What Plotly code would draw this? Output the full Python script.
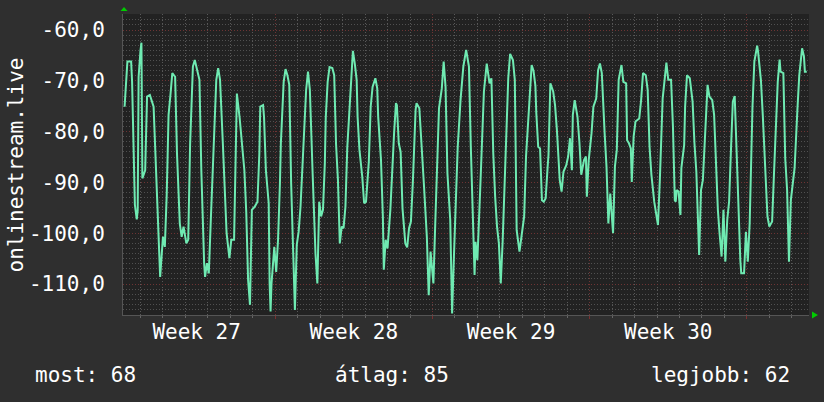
import pandas as pd
import plotly.graph_objects as go

# ---------------- data ----------------
series_name = "onlinestream.live"
start_time = "2024-07-01 00:00"          # Monday, ISO week 27

hours = [
    7, 9, 10, 14, 15, 18, 20, 21, 22, 24, 25, 26, 29, 31, 34, 38, 40, 42, 45, 48,
    50, 52, 54, 56, 58, 61, 63, 66, 68, 70, 73, 75, 77, 80, 82, 87, 89, 92, 93, 95,
    97, 99, 103, 105, 107, 109, 112, 115, 116, 119, 121, 124, 126, 127, 130, 132, 135, 137, 139, 141,
    143, 146, 149, 151,
    152, 155, 156, 158, 161, 162, 163, 164, 167, 169, 171, 173, 174, 177, 179, 181, 183, 185, 187, 189,
    191, 193, 195, 197, 200, 201, 203, 205, 208, 211, 213, 215, 217, 219, 221, 222, 224, 226, 229, 231,
    233, 235, 237, 239, 241, 243, 245, 247, 249, 251, 253, 255, 256, 258, 261, 263, 265, 268, 270, 272,
    275, 277, 278, 281, 283, 284, 286, 288, 291, 293, 295, 297, 298, 300,
    302, 304, 307, 309, 311, 313, 315, 318, 319, 322, 325, 327, 330, 332, 334, 337, 339, 341, 343, 346,
    348, 350, 352, 355, 357, 359, 361, 363, 366, 369, 372, 375, 377, 379, 381, 382, 384, 387, 391, 394,
    397, 399, 401, 403, 405, 407, 409, 411, 413, 415, 417, 419, 422, 424, 425, 426, 429, 432, 434, 436,
    440, 442, 444, 446, 447, 449,
    451, 453, 455, 457, 459, 460, 462, 465, 467, 469, 472, 474, 476, 479, 481, 483, 485, 486, 488, 491,
    493, 495, 498, 500, 501, 503, 506, 508, 511, 513, 515, 517, 520, 522, 524, 526, 529, 531, 533, 535,
    538, 540, 543, 544, 546, 548, 549, 551, 553, 557, 559, 561, 564, 566, 568, 570, 573, 575, 577, 579,
    582, 585, 586, 588, 591, 593,
    595, 596, 597, 599, 601, 602, 605, 606, 608, 611, 614, 616, 618, 621, 623, 625, 627, 630, 632, 635,
    637, 639, 641, 643, 645, 647, 649, 651, 653, 655, 657, 659, 662, 665, 666, 669, 671, 673, 675, 678,
    680, 683, 684, 687, 689, 692, 694, 696, 699, 701, 702, 705, 707, 708, 711, 713, 715, 717, 719, 721,
    723, 726, 728, 731, 733, 734, 736,
]

values = [
    -75.1, -68.9, -66.2, -66.2, -70.2, -94.4, -97.3, -95.5, -69.2, -64.0, -62.5, -89.2, -87.6, -73.1, -72.8, -75.1, -84.6, -94.8, -108.6, -100.7,
    -102.7, -92.5, -76.7, -72.8, -68.5, -69.2, -84.3, -98.1, -100.7, -98.7, -102.0, -101.3, -82.6, -67.2, -65.9, -69.8, -87.6, -105.9, -108.6, -105.9,
    -107.9, -98.1, -77.7, -69.8, -67.5, -69.8, -82.3, -93.8, -100.0, -104.9, -101.3, -101.3, -85.6, -72.5, -77.4, -81.0, -87.6, -95.8, -109.2, -114.1,
    -95.4, -94.8, -93.8, -84.3,
    -75.1, -74.8, -77.1, -87.6, -94.1, -109.9, -115.4, -109.9, -102.7, -107.6, -101.3, -90.2, -82.3, -70.2, -67.7, -68.9, -70.8, -90.2, -105.3, -115.1,
    -102.3, -99.7, -94.8, -86.9, -73.5, -71.8, -68.2, -71.8, -88.5, -104.0, -109.9, -93.8, -96.7, -95.4, -86.2, -77.1, -70.2, -67.3, -67.5, -68.9,
    -82.6, -89.5, -102.0, -98.7, -99.0, -94.8, -83.0, -76.7, -69.2, -64.1, -66.6, -69.8, -77.1, -83.6, -88.9, -94.1, -93.8, -85.9, -75.1, -71.2,
    -69.5, -71.5, -77.1, -85.6, -96.7, -107.2, -101.3, -103.0, -95.4, -86.9, -80.3, -74.4, -74.8, -82.3,
    -84.0, -95.1, -102.0, -102.8, -99.0, -97.7, -90.2, -75.7, -74.4, -75.4, -84.0, -90.8, -100.7, -112.2, -103.6, -109.9, -98.1, -84.9, -75.4, -71.5,
    -66.2, -71.2, -88.2, -97.4, -115.8, -104.3, -94.8, -83.0, -73.8, -67.2, -63.9, -67.2, -83.0, -98.7, -108.2, -101.7, -105.3, -91.5, -72.1, -66.6,
    -70.5, -69.5, -84.3, -92.8, -98.7, -102.0, -109.9, -101.7, -91.5, -78.4, -69.5, -64.7, -65.9, -69.8, -85.9, -99.4, -103.6, -99.0, -96.7, -84.9,
    -73.1, -66.9, -68.0, -71.0, -76.4, -83.0,
    -83.3, -93.5, -93.8, -93.1, -87.2, -84.6, -70.5, -72.1, -74.8, -79.7, -89.5, -91.8, -87.9, -86.6, -84.9, -81.3, -87.6, -76.7, -73.8, -77.1,
    -82.0, -88.5, -85.6, -84.9, -92.8, -85.6, -80.3, -75.1, -73.5, -67.9, -66.6, -68.5, -80.3, -86.9, -98.1, -92.2, -100.0, -86.9, -83.6, -69.8,
    -66.9, -70.2, -70.5, -81.7, -82.3, -83.3, -89.9, -81.0, -78.0, -77.4, -73.8, -68.5, -68.9, -71.8, -83.0, -88.5, -93.8, -96.1, -98.4, -89.5,
    -73.5, -68.2, -66.4, -69.8, -69.8, -79.0,
    -93.5, -93.8, -91.5, -91.8, -96.4, -87.2, -82.6, -75.1, -68.9, -69.5, -74.1, -82.3, -87.9, -104.3, -91.5, -89.5, -82.3, -70.8, -73.1, -73.8,
    -76.7, -85.3, -95.4, -100.4, -104.6, -95.4, -105.6, -97.4, -93.8, -83.6, -74.1, -73.0, -90.8, -105.3, -107.9, -107.9, -99.7, -105.6, -98.1, -75.1,
    -66.2, -63.1, -64.3, -69.8, -76.7, -89.9, -96.7, -98.7, -97.7, -88.2, -83.6, -70.2, -65.8, -68.2, -68.5, -85.3, -91.5, -105.6, -93.5, -89.9,
    -87.2, -75.7, -68.9, -63.6, -65.2, -68.2, -68.2,
]

week_starts = ["2024-07-08", "2024-07-15", "2024-07-22", "2024-07-29"]
week_label_pos = ["2024-07-04 12:00", "2024-07-11 12:00", "2024-07-18 12:00", "2024-07-25 12:00"]
week_labels = ["Week 27", "Week 28", "Week 29", "Week 30"]

y_tick_vals = [-60, -70, -80, -90, -100, -110]
y_tick_text = ["-60,0", "-70,0", "-80,0", "-90,0", "-100,0", "-110,0"]

legend_texts = ["most: 68", "átlag: 85", "legjobb: 62"]

x_range_hours = [5.3, 738.4]
y_range = [-116.1, -56.85]

# ---------------- figure ----------------
t0 = pd.Timestamp(start_time)
times = t0 + pd.to_timedelta(hours, unit="h")
x_range = [t0 + pd.Timedelta(hours=h) for h in x_range_hours]

FONT = "DejaVu Sans Mono"
TXT = "#ffffff"
RED_GRID = "rgba(110,52,52,1)"
GRAY_GRID = "rgba(95,95,95,0.9)"

fig = go.Figure()
fig.add_trace(go.Scatter(
    x=times, y=values, mode="lines",
    line=dict(color="#6feab2", width=2),
    hoverinfo="skip", showlegend=False,
))
# invisible trace to activate the label axis
fig.add_trace(go.Scatter(
    x=[times[0]], y=[values[0]], xaxis="x2", mode="markers",
    marker=dict(opacity=0), hoverinfo="skip", showlegend=False,
))

fig.update_layout(
    width=824, height=402,
    margin=dict(l=123, r=15, t=14, b=87),
    paper_bgcolor="#2f2f2f",
    plot_bgcolor="#222222",
    font=dict(family=FONT, size=21, color=TXT),
    showlegend=False,
    xaxis=dict(
        type="date", range=x_range,
        tickmode="array", tickvals=week_starts, showticklabels=False,
        showgrid=True, gridcolor=RED_GRID, griddash="1px,2px", gridwidth=1,
        ticks="outside", ticklen=3, tickcolor="#7a3030",
        minor=dict(tickmode="linear", tick0="2024-07-01", dtick=86400000,
                   showgrid=True, gridcolor=GRAY_GRID, griddash="1px,2px",
                   ticks="outside", ticklen=2, tickcolor="#666666"),
        showline=True, linecolor="#555555", linewidth=1,
        zeroline=False,
    ),
    xaxis2=dict(
        type="date", range=x_range, overlaying="x", anchor="y", side="bottom",
        tickmode="array", tickvals=week_label_pos, ticktext=week_labels,
        showgrid=False, ticks="", showline=False, zeroline=False,
        tickfont=dict(family=FONT, size=21, color=TXT),
        ticklabelstandoff=2,
    ),
    yaxis=dict(
        range=y_range,
        tickmode="array", tickvals=y_tick_vals, ticktext=y_tick_text,
        showgrid=True, gridcolor=RED_GRID, griddash="1px,2px", gridwidth=1,
        minor=dict(tickmode="linear", tick0=0, dtick=1,
                   showgrid=True, gridcolor="rgba(85,85,85,0.9)", griddash="1px,2px"),
        ticks="", ticklabelstandoff=13,
        tickfont=dict(family=FONT, size=21, color=TXT),
        showline=True, linecolor="#555555", linewidth=1,
        zeroline=False,
    ),
    annotations=[
        dict(text=series_name, textangle=-90, xref="paper", yref="paper",
             x=(15 - 123) / 686, y=0.5, xanchor="center", yanchor="middle",
             showarrow=False, font=dict(family=FONT, size=21, color=TXT)),
        dict(text=legend_texts[0], xref="paper", yref="paper",
             x=(33 - 123) / 686, y=(315 - 375) / 301, xanchor="left", yanchor="middle",
             showarrow=False, font=dict(family=FONT, size=21, color=TXT)),
        dict(text=legend_texts[1], xref="paper", yref="paper",
             x=(392 - 123) / 686, y=(315 - 375) / 301, xanchor="center", yanchor="middle",
             showarrow=False, font=dict(family=FONT, size=21, color=TXT)),
        dict(text=legend_texts[2], xref="paper", yref="paper",
             x=(792 - 123) / 686, y=(315 - 375) / 301, xanchor="right", yanchor="middle",
             showarrow=False, font=dict(family=FONT, size=21, color=TXT)),
    ],
    shapes=[
        dict(type="path", xref="paper", yref="paper",
             path="M 0.00146 1.0233 L -0.0036 1.00997 L 0.00656 1.00997 Z",
             fillcolor="#00cc00", line=dict(width=0)),
        dict(type="path", xref="paper", yref="paper",
             path="M 1.0131 0 L 1.0044 0.01163 L 1.0044 -0.01163 Z",
             fillcolor="#00cc00", line=dict(width=0)),
    ],
)

fig.write_html("out.html")
